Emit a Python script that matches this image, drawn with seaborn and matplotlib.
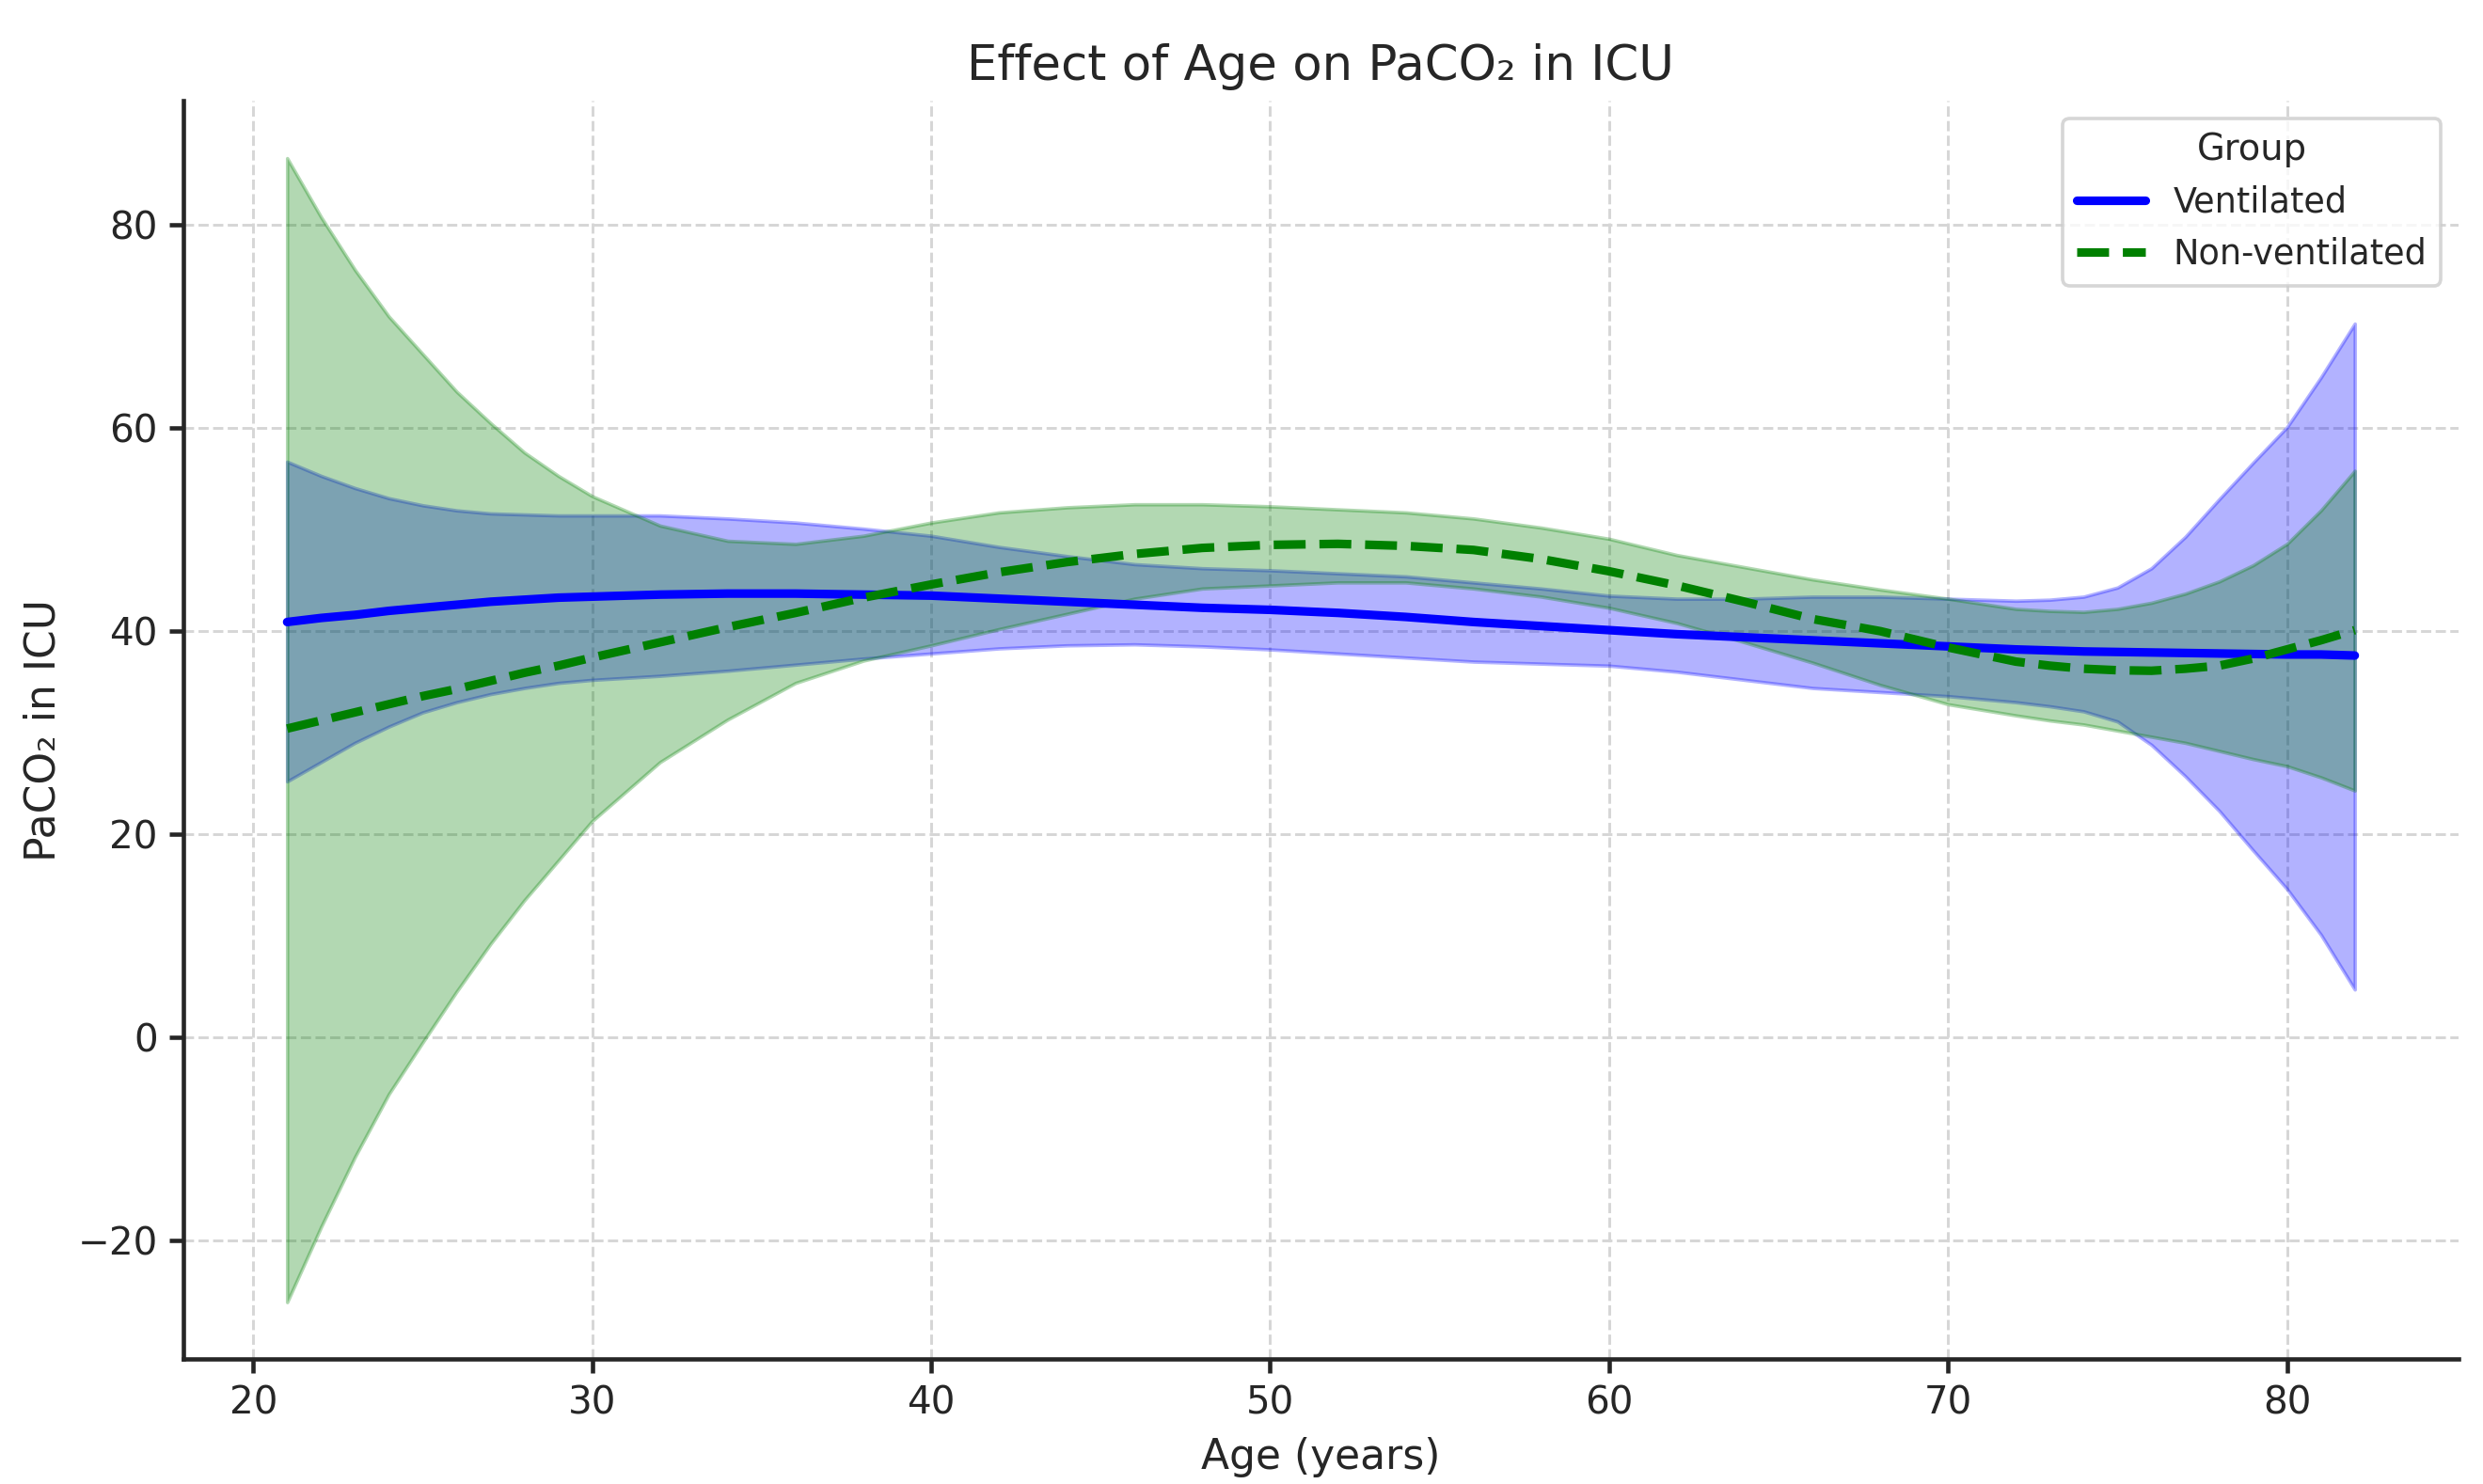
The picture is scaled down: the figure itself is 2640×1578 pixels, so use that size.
import numpy as np
import pandas as pd
import seaborn as sns
import matplotlib
matplotlib.use('Agg')
import matplotlib.pyplot as plt

# Values (fitted curve + confidence band per group)
age = [21, 22, 23, 24, 25, 26, 27, 28, 29, 30, 32, 34, 36, 38, 40, 42, 44, 46, 48, 50,
       52, 54, 56, 58, 60, 62, 64, 66, 68, 70, 72, 73, 74, 75, 76, 77, 78, 79, 80, 81, 82]

vent_mean = [40.9, 41.3, 41.6, 42.0, 42.3, 42.6, 42.9, 43.1, 43.3, 43.4, 43.6, 43.7, 43.7, 43.6,
             43.5, 43.2, 42.9, 42.6, 42.3, 42.1, 41.8, 41.4, 40.9, 40.5, 40.1, 39.7, 39.4, 39.1,
             38.8, 38.5, 38.2, 38.1, 38.0, 37.95, 37.9, 37.85, 37.8, 37.75, 37.7, 37.7, 37.6]
vent_upper = [56.7, 55.3, 54.1, 53.1, 52.4, 51.9, 51.6, 51.5, 51.4, 51.4, 51.4, 51.1, 50.7, 50.1,
              49.4, 48.3, 47.4, 46.6, 46.2, 46.0, 45.7, 45.4, 44.8, 44.2, 43.5, 43.2, 43.2, 43.4,
              43.4, 43.2, 43.0, 43.1, 43.4, 44.3, 46.2, 49.3, 53.0, 56.6, 60.1, 65.0, 70.3]
vent_lower = [25.2, 27.1, 29.0, 30.6, 32.0, 33.0, 33.8, 34.4, 34.9, 35.2, 35.6, 36.1, 36.7, 37.3,
              37.8, 38.3, 38.6, 38.7, 38.5, 38.2, 37.8, 37.4, 37.0, 36.8, 36.6, 36.0, 35.2, 34.4,
              34.0, 33.6, 33.0, 32.6, 32.1, 31.1, 28.8, 25.7, 22.3, 18.4, 14.6, 10.1, 4.7]

nonvent_mean = [30.4, 31.2, 32.0, 32.8, 33.6, 34.3, 35.1, 35.9, 36.6, 37.4, 38.9, 40.4, 41.8, 43.3,
                44.6, 45.8, 46.8, 47.6, 48.2, 48.5, 48.6, 48.4, 48.0, 47.1, 45.9, 44.5, 42.9, 41.2,
                40.0, 38.4, 37.0, 36.6, 36.3, 36.15, 36.1, 36.3, 36.6, 37.3, 38.2, 39.1, 40.1]
nonvent_upper = [86.6, 80.8, 75.6, 71.0, 67.3, 63.6, 60.5, 57.6, 55.3, 53.3, 50.4, 48.9, 48.6, 49.4,
                 50.7, 51.7, 52.2, 52.5, 52.5, 52.3, 52.0, 51.7, 51.1, 50.2, 49.1, 47.5, 46.3, 45.1,
                 44.1, 43.2, 42.2, 42.0, 41.9, 42.2, 42.8, 43.7, 44.9, 46.5, 48.6, 51.9, 55.8]
nonvent_lower = [-26.1, -18.7, -11.8, -5.6, -0.5, 4.5, 9.2, 13.5, 17.4, 21.3, 27.1, 31.3, 34.9, 37.1,
                 38.6, 40.2, 41.7, 43.2, 44.2, 44.5, 44.8, 44.8, 44.2, 43.4, 42.3, 40.8, 38.9, 36.9,
                 34.7, 32.8, 31.7, 31.2, 30.8, 30.2, 29.6, 29.0, 28.2, 27.4, 26.7, 25.6, 24.3]

df = pd.DataFrame({
    'age': age * 2,
    'paco2': vent_mean + nonvent_mean,
    'Group': ['Ventilated'] * len(age) + ['Non-ventilated'] * len(age),
})

sns.set_style('ticks')
plt.rcParams['font.family'] = ['DejaVu Sans']

fig, ax = plt.subplots(figsize=(10, 1578 / 264))
fig.subplots_adjust(left=0.074, right=0.990, top=0.932, bottom=0.084)

# Confidence bands
ax.fill_between(age, vent_lower, vent_upper, color='blue', alpha=0.3)
ax.fill_between(age, nonvent_lower, nonvent_upper, color='green', alpha=0.3)

# Fitted lines
sns.lineplot(data=df[df['Group'] == 'Ventilated'], x='age', y='paco2',
             color='blue', linewidth=2.5, label='Ventilated', errorbar=None, ax=ax)
sns.lineplot(data=df[df['Group'] == 'Non-ventilated'], x='age', y='paco2',
             color='green', linewidth=2.5, linestyle='--', label='Non-ventilated',
             errorbar=None, ax=ax)

ax.grid(True, linestyle='--', color='#d6d6d6', linewidth=0.8)
ax.set_axisbelow(True)
sns.despine(ax=ax)
for s in ['left', 'bottom']:
    ax.spines[s].set_linewidth(1.25)
ax.tick_params(labelsize=11, length=4, width=1.25)

ax.set_title('Effect of Age on PaCO\u2082 in ICU', fontsize=14)
ax.set_xlabel('Age (years)', fontsize=12)
ax.set_ylabel('PaCO\u2082 in ICU', fontsize=12)

ax.legend(title='Group', loc='upper right', fontsize=10, title_fontsize=10.5, frameon=True)

fig.savefig('out.png', dpi=264)
